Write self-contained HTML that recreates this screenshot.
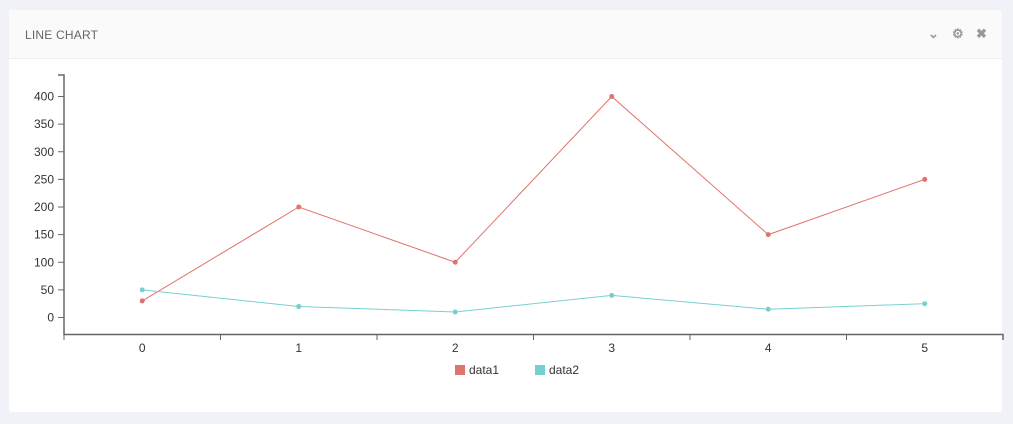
<!DOCTYPE html>
<html><head><meta charset="utf-8"><style>
body{margin:0;background:#f1f2f7;width:1013px;height:424px;overflow:hidden;font-family:"Liberation Sans",sans-serif}
.card{position:absolute;left:9px;top:10px;width:993px;height:402px;background:#fff;border-radius:3px}
.hdr{height:48px;border-bottom:1px solid #eee;background:#fafafa;border-radius:3px 3px 0 0;position:relative}
.title{position:absolute;left:16px;top:18px;font-size:12px;color:#666;letter-spacing:.2px}
.ic{position:absolute;top:16px;color:#999;font-size:13px;font-weight:bold}
svg{position:absolute;left:0;top:0}
</style></head><body>
<div class="card">
<div class="hdr">
<div class="title">LINE CHART</div>
<div class="ic" style="left:919px">&#8964;</div>
<div class="ic" style="left:943px">&#9881;</div>
<div class="ic" style="left:967px">&#10006;</div>
</div></div>
<svg id="c" width="1013" height="424"></svg>
<script>
const categories=[0,1,2,3,4,5];
const data1=[30,200,100,400,150,250];
const data2=[50,20,10,40,15,25];
const yTicks=[0,50,100,150,200,250,300,350,400];
const NS='http://www.w3.org/2000/svg',s=document.getElementById('c');
const x0=64,x1=1003,step=(x1-x0)/categories.length;
const X=i=>x0+step*(i+0.5), Y=v=>317.5-v*(221/400);
function el(t,a,p){const e=document.createElementNS(NS,t);for(const k in a)e.setAttribute(k,a[k]);(p||s).appendChild(e);return e;}
let ax=el('path',{d:`M${x0-6},75H${x0}V334.5H${x1}V340`,stroke:'#666',fill:'none','stroke-width':1.5});


yTicks.forEach(v=>{el('line',{x1:x0-6,x2:x0,y1:Y(v),y2:Y(v),stroke:'#666'});
const t=el('text',{x:x0-10,y:Y(v)+4,'text-anchor':'end','font-size':12,fill:'#333'});t.textContent=v;

});
categories.forEach((c,i)=>{el('line',{x1:x0+step*i,x2:x0+step*i,y1:334,y2:340,stroke:'#666'});
const t=el('text',{x:X(i),y:352,'text-anchor':'middle','font-size':12,fill:'#333'});t.textContent=c;

});
[[data1,'#e0736c','data1'],[data2,'#77d0d0','data2']].forEach(([d,col,n])=>{
const p=el('path',{d:d.map((v,i)=>(i?'L':'M')+X(i)+','+Y(v)).join(''),stroke:col,fill:'none'});


d.forEach((v,i)=>{const c=el('circle',{cx:X(i),cy:Y(v),r:2.5,fill:col});

});});
[['data1','#e0736c',455],['data2','#77d0d0',535]].forEach(([n,col,x])=>{
const g=el('g',{});
el('rect',{x:x,y:365,width:10,height:10,fill:col},g);
const t=el('text',{x:x+14,y:374,'font-size':12,fill:'#333'},g);t.textContent=n;});
</script></body></html>
